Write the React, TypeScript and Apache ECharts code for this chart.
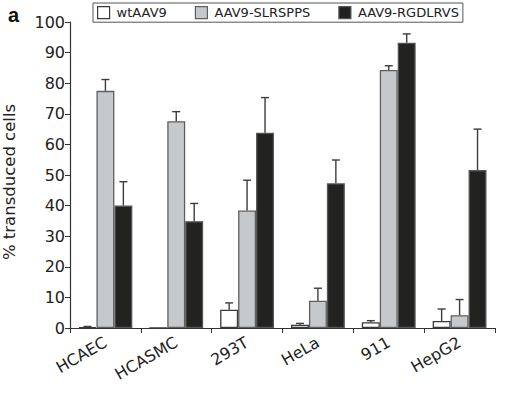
import React, { useEffect, useRef } from "react";
import * as echarts from "echarts";

const categories = ["HCAEC", "HCASMC", "293T", "HeLa", "911", "HepG2"];
const seriesNames = ["wtAAV9", "AAV9-SLRSPPS", "AAV9-RGDLRVS"];
const wtValues = [0.3, 0, 6.0, 1.1, 1.9, 2.3];
const wtErrors = [0.2, 0, 2.2, 0.4, 0.5, 3.9];
const slrValues = [77.5, 67.6, 38.4, 8.9, 84.3, 4.2];
const slrErrors = [3.7, 3.1, 9.9, 4.1, 1.4, 5.1];
const rgdValues = [40.0, 34.9, 63.8, 47.3, 93.2, 51.6];
const rgdErrors = [7.8, 5.8, 11.5, 7.6, 2.9, 13.4];
const yTicks = { min: 0, max: 100, interval: 10 };

const FONT = "DejaVu Sans";
const fills = ["#ffffff", "#c6c9cc", "#222220"];
const borders = ["#3a3a3a", "#5f5f5f", "#555555"];
const CATEGORY_GAP = 0.24;

export default function App() {
  const ref = useRef<HTMLDivElement>(null);
  useEffect(() => {
    document.body.style.margin = "0";
    if (!ref.current) return;
    const chart = echarts.init(ref.current, null, { renderer: "svg" });
    const values = [wtValues, slrValues, rgdValues];
    const errors = [wtErrors, slrErrors, rgdErrors];

    const barSeries = seriesNames.map((name, s) => ({
      name,
      type: "bar",
      data: values[s],
      barGap: "0%",
      barCategoryGap: `${CATEGORY_GAP * 100}%`,
      itemStyle: { color: fills[s], borderColor: borders[s], borderWidth: 1.3 },
      emphasis: { disabled: true },
      z: 2,
    }));

    const errSeries = seriesNames.map((name, s) => ({
      name: name + "-err",
      type: "custom",
      z: 5,
      silent: true,
      encode: { x: 0, y: [1, 2] },
      data: categories.map((_, i) => [i, values[s][i], values[s][i] + errors[s][i]]),
      renderItem: (params: any, api: any) => {
        const idx = api.value(0);
        const v = api.value(1);
        const hi = api.value(2);
        if (hi - v <= 0) return null;
        const base = api.coord([idx, v]);
        const top = api.coord([idx, hi]);
        const band = api.size([1, 0])[0];
        const bw = (band * (1 - CATEGORY_GAP)) / 3;
        const cx = base[0] + (s - 1) * bw;
        const style = { stroke: "#3c3c3c", lineWidth: 1.4 };
        return {
          type: "group",
          children: [
            { type: "line", shape: { x1: cx, y1: base[1], x2: cx, y2: top[1] }, style },
            { type: "line", shape: { x1: cx - 4, y1: top[1], x2: cx + 4, y2: top[1] }, style },
          ],
        };
      },
    }));

    chart.setOption({
      animation: false,
      title: {
        text: "a",
        left: 3,
        top: 0,
        textStyle: { fontFamily: "Liberation Sans", fontWeight: "bold", fontSize: 20, color: "#111" },
      },
      legend: {
        data: seriesNames.map((n, s) => ({
          name: n,
          itemStyle: { color: fills[s], borderColor: borders[s], borderWidth: 1.2 },
        })),
        left: 93,
        top: 3,
        icon: "rect",
        itemWidth: 12,
        itemHeight: 12,
        itemGap: 28,
        padding: [3, 4, 3, 4],
        borderColor: "#555",
        borderWidth: 1,
        textStyle: { fontFamily: FONT, fontSize: 13, color: "#222", padding: [0, 0, 0, 2] },
        selectedMode: false,
      },
      grid: { left: 70, right: 13, top: 22, bottom: 65, containLabel: false, outerBoundsMode: "none" },
      xAxis: {
        type: "category",
        data: categories,
        axisLine: { lineStyle: { color: "#333", width: 1.2 } },
        axisTick: { show: true, length: 5, interval: 0, lineStyle: { color: "#333" } },
        axisLabel: {
          interval: 0,
          rotate: 30,
          margin: 13,
          fontFamily: FONT,
          fontSize: 16,
          color: "#222",
        },
      },
      yAxis: {
        type: "value",
        min: yTicks.min,
        max: yTicks.max,
        interval: yTicks.interval,
        name: "% transduced cells",
        nameLocation: "middle",
        nameGap: 52,
        nameTextStyle: { fontFamily: FONT, fontSize: 16.5, color: "#222", padding: [0, 14, 0, 0] },
        axisLine: { show: true, lineStyle: { color: "#333", width: 1.2 } },
        axisTick: { show: true, length: 5, lineStyle: { color: "#333" } },
        axisLabel: { fontFamily: FONT, fontSize: 16, color: "#222", margin: 5 },
        splitLine: { show: false },
      },
      series: [...barSeries, ...errSeries],
    });
    return () => chart.dispose();
  }, []);
  return <div ref={ref} style={{ width: 508, height: 393 }} />;
}
